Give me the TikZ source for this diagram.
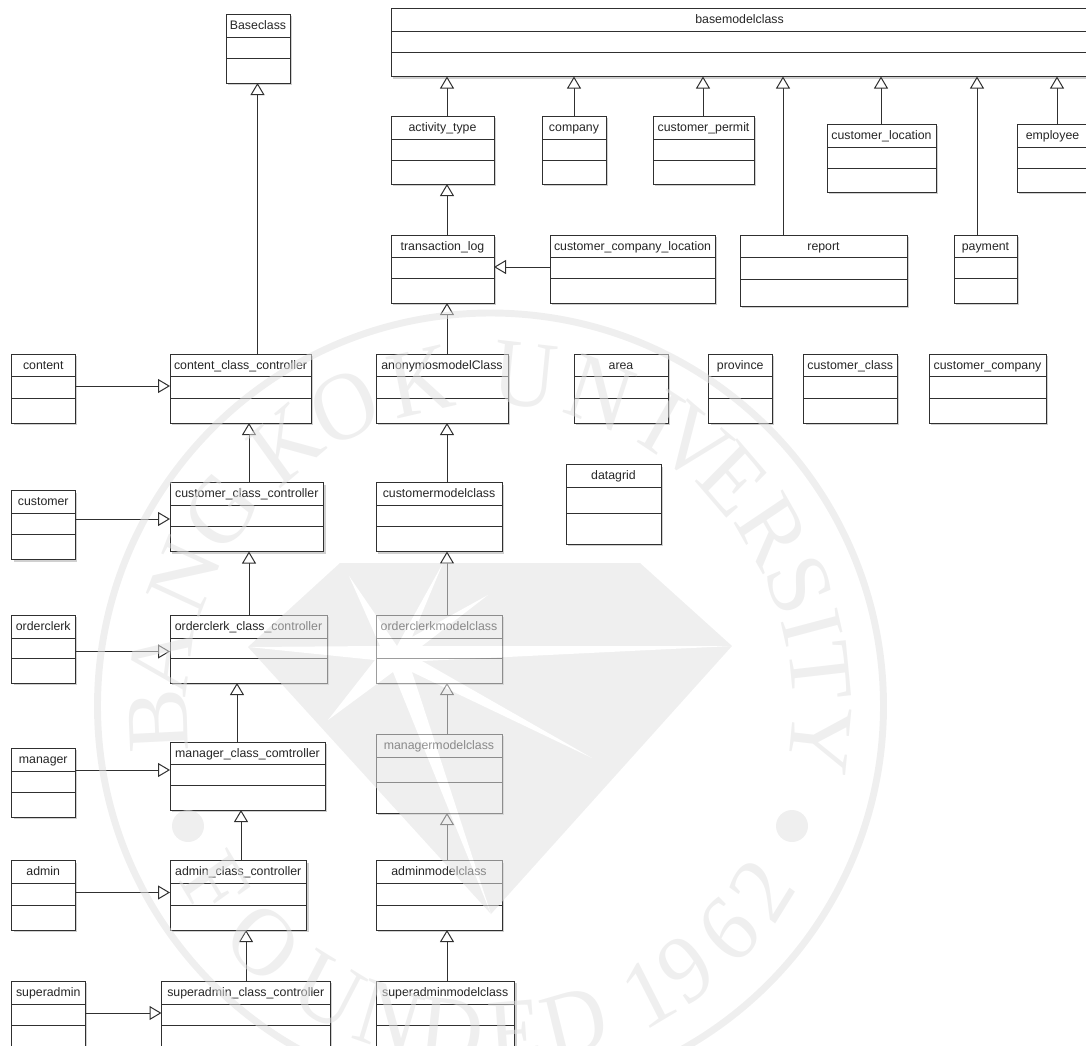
\documentclass[tikz,border=0pt]{standalone}
\usepackage{fontspec}
\setmainfont{Liberation Sans}
\newfontfamily\sealfont{Liberation Serif}
\usetikzlibrary{arrows.meta}
\definecolor{umlline}{HTML}{303030}
\definecolor{umlshadow}{HTML}{D0D0D0}
\definecolor{sealgray}{gray}{0.882}
\tikzset{
  classbox/.style={draw=umlline,line width=0.75pt,inner sep=0pt,outer sep=0pt,rectangle},
  classline/.style={draw=umlline,line width=0.75pt},
  classtitle/.style={inner sep=0pt,anchor=base,font=\fontsize{9.25pt}{11pt}\selectfont,text=black!85},
  gen/.style={draw=umlline,line width=0.75pt,-{Triangle[open,fill=white,length=9pt,width=10.5pt]}},
  sealletter/.style={inner sep=0pt,outer sep=0pt,text=sealgray,font=\fontsize{72pt}{72pt}\sealfont,xscale=0.92}
}
% name, x1, y1, x2, y2, line1, line2, title
\newcommand{\umlclass}[8]{%
  \pgfmathsetmacro\boxw{(#4-#2)*0.75}%
  \pgfmathsetmacro\boxh{(#5-#3)*0.75}%
  \fill[umlshadow] ({#2+2},{#3+2}) rectangle ({#4+2},{#5+2});
  \node[classbox,fill=white,minimum width=\boxw pt,minimum height=\boxh pt] (#1) at ({(#2+#4)/2},{(#3+#5)/2}) {};
  \draw[classline] (#1.west |- 0,#6) -- (#1.east |- 0,#6);
  \draw[classline] (#1.west |- 0,#7) -- (#1.east |- 0,#7);
  \node[classtitle] (#1-title) at ({(#2+#4)/2},{#3+15.3}) {#8};
}
% source, target, x : vertical generalization, source below target
\newcommand{\upgen}[3]{\draw[gen] (#1.north -| #3,0) -- (#2.south -| #3,0);}
% source, target, y : horizontal generalization, source left of target
\newcommand{\rightgen}[3]{\draw[gen] (#1.east |- 0,#3) -- (#2.west |- 0,#3);}
% angle, letter (upper arc / lower arc)
\newcommand{\sealtop}[2]{\node[sealletter,rotate=#1-90] at ({490+332*cos(#1)},{706-332*sin(#1)}) {#2};}
\newcommand{\sealbot}[2]{\node[sealletter,rotate=#1+90] at ({490+328*cos(#1)},{706-328*sin(#1)}) {#2};}
\begin{document}
\begin{tikzpicture}[x=0.75pt,y=-0.75pt]
\useasboundingbox (0,0) rectangle (1086,1046);
\clip (0,0) rectangle (1086,1046);

\umlclass{baseclass}{226}{14}{290}{83}{37}{58}{Baseclass}
\umlclass{basemodelclass}{391}{8.5}{1088}{76.5}{31}{52}{basemodelclass}
\umlclass{activitytype}{391}{116}{494}{184}{139}{160}{activity\_type}
\umlclass{company}{542}{116}{606}{184}{139}{160}{company}
\umlclass{customerpermit}{653}{116}{754}{184}{139}{160}{customer\_permit}
\umlclass{customerlocation}{827}{124}{936}{192}{147}{168}{customer\_location}
\umlclass{employee}{1017}{124}{1088}{192}{147}{168}{employee}
\umlclass{transactionlog}{391}{235}{494}{303}{257}{278}{transaction\_log}
\umlclass{customercompanylocation}{550}{235}{715}{303}{257}{278}{customer\_company\_location}
\umlclass{report}{740}{235}{907}{306}{257}{279}{report}
\umlclass{payment}{954}{235}{1017}{303}{257}{278}{payment}

\umlclass{content}{11.5}{354}{75}{423}{376.5}{398}{content}
\umlclass{contentctl}{170}{354}{311}{423}{376.5}{398}{content\_class\_controller}
\umlclass{anonymos}{376}{354}{508}{423}{376.5}{398}{anonymosmodelClass}
\umlclass{area}{574}{354}{668}{423}{376.5}{398}{area}
\umlclass{province}{708.5}{354}{772}{423}{376.5}{398}{province}
\umlclass{customerclass}{803.5}{354}{897}{423}{376.5}{398}{customer\_class}
\umlclass{customercompany}{929}{354}{1046}{423}{376.5}{398}{customer\_company}

\umlclass{datagrid}{566}{464.5}{661}{544}{487}{513}{datagrid}
\umlclass{customer}{11.5}{490.5}{75}{559.5}{513}{534.5}{customer}
\umlclass{customerctl}{170}{482.5}{323.5}{551.5}{505}{526.5}{customer\_class\_controller}
\umlclass{customermodel}{376}{482.5}{502}{551.5}{505}{526.5}{customermodelclass}

\umlclass{orderclerk}{11.5}{615}{75}{683}{638}{658}{orderclerk}
\umlclass{orderclerkctl}{170}{615}{327}{683}{638}{658}{orderclerk\_class\_controller}
\umlclass{orderclerkmodel}{376}{615}{502}{683}{638}{658}{orderclerkmodelclass}

\umlclass{manager}{11.5}{748}{75}{817}{771}{792}{manager}
\umlclass{managerctl}{170}{742}{325}{810}{764}{785}{manager\_class\_comtroller}
\umlclass{managermodel}{376}{734}{502}{813}{757}{782}{managermodelclass}

\umlclass{admin}{11.5}{860.5}{75}{930}{883.5}{905}{admin}
\umlclass{adminctl}{170}{860.5}{306.5}{930}{883.5}{905}{admin\_class\_controller}
\umlclass{adminmodel}{376}{860.5}{502}{930}{883.5}{905}{adminmodelclass}

\umlclass{superadmin}{11.5}{981}{85}{1052}{1004}{1025}{superadmin}
\umlclass{superadminctl}{161.5}{981}{330}{1052}{1004}{1025}{superadmin\_class\_controller}
\umlclass{superadminmodel}{376}{981}{514.5}{1052}{1004}{1025}{superadminmodelclass}

\upgen{activitytype}{basemodelclass}{447}
\upgen{company}{basemodelclass}{574}
\upgen{customerpermit}{basemodelclass}{703}
\upgen{report}{basemodelclass}{783}
\upgen{customerlocation}{basemodelclass}{881}
\upgen{payment}{basemodelclass}{977}
\upgen{employee}{basemodelclass}{1057}
\upgen{transactionlog}{activitytype}{447}
\draw[gen] (customercompanylocation.west |- 0,267) -- (transactionlog.east |- 0,267);
\upgen{anonymos}{transactionlog}{447}
\upgen{customermodel}{anonymos}{447}
\upgen{orderclerkmodel}{customermodel}{447}
\upgen{managermodel}{orderclerkmodel}{447}
\upgen{adminmodel}{managermodel}{447}
\upgen{superadminmodel}{adminmodel}{447}
\upgen{contentctl}{baseclass}{257.5}
\upgen{customerctl}{contentctl}{249}
\upgen{orderclerkctl}{customerctl}{249}
\upgen{managerctl}{orderclerkctl}{237}
\upgen{adminctl}{managerctl}{241}
\upgen{superadminctl}{adminctl}{246}
\rightgen{content}{contentctl}{386}
\rightgen{customer}{customerctl}{519}
\rightgen{orderclerk}{orderclerkctl}{651.5}
\rightgen{manager}{managerctl}{770}
\rightgen{admin}{adminctl}{892.5}
\rightgen{superadmin}{superadminctl}{1013}

% watermark seal, laid over the diagram
\begin{scope}[transparency group,opacity=0.53]
  \draw[sealgray,line width=5.2pt] (490.5,706) circle [x radius=393,y radius=393];
  \fill[sealgray] (340,563) -- (640,563) -- (732,646) -- (491,914) -- (248,647) -- cycle;
  \fill[white] (248,647) -- (380,646) -- (349,576) -- (397,646) -- (443,563) -- (412,637)
     -- (488,595) -- (422,646) -- (732,646) -- (507,657) -- (422,661) -- (592,758)
     -- (412,672) -- (491,914) -- (393,672) -- (328,720) -- (375,660) -- cycle;
  \fill[sealgray] (792,826) circle [x radius=16,y radius=16];
  \fill[sealgray] (188,826) circle [x radius=16,y radius=16];
  \sealtop{182.6}{B}
  \sealtop{172}{A}
  \sealtop{157}{N}
  \sealtop{144}{G}
  \sealtop{128}{K}
  \sealtop{116}{O}
  \sealtop{102}{K}
  \sealtop{84}{U}
  \sealtop{70.6}{N}
  \sealtop{58.7}{I}
  \sealtop{52}{V}
  \sealtop{43}{E}
  \sealtop{31.7}{R}
  \sealtop{21.3}{S}
  \sealtop{13.7}{I}
  \sealtop{6}{T}
  \sealtop{-6}{Y}
  \sealbot{-146.9}{F}
  \sealbot{-133.7}{O}
  \sealbot{-119.5}{U}
  \sealbot{-108}{N}
  \sealbot{-96.7}{D}
  \sealbot{-85.6}{E}
  \sealbot{-75}{D}
  \sealbot{-61}{1}
  \sealbot{-53.4}{9}
  \sealbot{-43.3}{6}
  \sealbot{-34}{2}
\end{scope}
\end{tikzpicture}
\end{document}
